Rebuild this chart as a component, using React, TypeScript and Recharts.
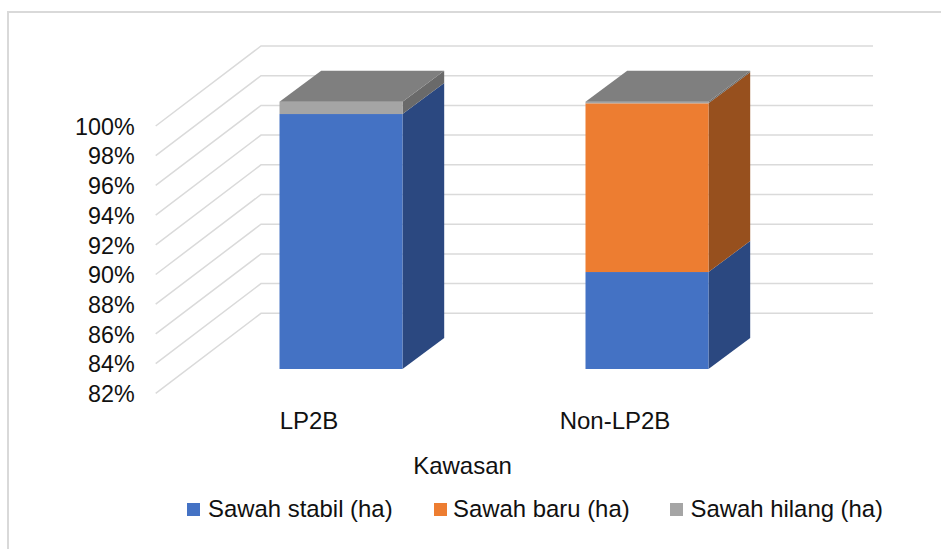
import React from 'react';
import { BarChart, Bar, XAxis, YAxis, CartesianGrid, Legend } from 'recharts';

const categories = ['LP2B', 'Non-LP2B'];
const sawahStabil = [99.17, 88.53];
const sawahBaru = [0, 11.36];
const sawahHilang = [0.83, 0.11];
const yTicks = [82, 84, 86, 88, 90, 92, 94, 96, 98, 100];
const seriesNames = ['Sawah stabil (ha)', 'Sawah baru (ha)', 'Sawah hilang (ha)'];
const seriesColors = ['#4472C4', '#ED7D31', '#A5A5A5'];
const sideColors = ['#2B4880', '#97501E', '#6A6A6A'];
const topColor = '#7F7F7F';

const data = categories.map((name, i) => ({
  name,
  stabil: sawahStabil[i],
  baru: sawahBaru[i],
  hilang: sawahHilang[i],
}));

const FONT = '"Liberation Sans", Arial, sans-serif';
const DEPTH_X = 41.7;
const DEPTH_Y = 31;
const PLOT_BOTTOM = 369;
const WALL_LEFT = 155.7;
const WALL_CORNER = 261;
const WALL_RIGHT = 873;
const legendLefts = [187, 433.5, 669.5];
const legendTextLefts = [208, 453, 690.5];

const makeShape = (idx: number, withTop: boolean) => (props: any) => {
  const { x, y, width, height } = props;
  const h = Math.min(height, PLOT_BOTTOM - y);
  if (!(h > 0)) return <g />;
  const b = y + h;
  const r = x + width;
  return (
    <g>
      <polygon
        points={`${r},${y} ${r + DEPTH_X},${y - DEPTH_Y} ${r + DEPTH_X},${b - DEPTH_Y} ${r},${b}`}
        fill={sideColors[idx]}
      />
      <rect x={x} y={y} width={width} height={h} fill={seriesColors[idx]} />
      {withTop && (
        <polygon
          points={`${x},${y} ${x + DEPTH_X},${y - DEPTH_Y} ${r + DEPTH_X},${y - DEPTH_Y} ${r},${y}`}
          fill={topColor}
        />
      )}
    </g>
  );
};

const wallLine = (props: any) => {
  const { y1, key } = props;
  const front = y1 + 24.3;
  const back = y1 - 55.7;
  return (
    <polyline
      key={key ?? y1}
      points={`${WALL_LEFT},${front} ${WALL_CORNER},${back} ${WALL_RIGHT},${back}`}
      fill="none"
      stroke="#DADADA"
      strokeWidth={1.5}
    />
  );
};

const YTick = (props: any) => (
  <text x={134.7} y={props.y + 33} textAnchor="end" fontFamily={FONT} fontSize={23.3} fill="#111">
    {props.payload.value}%
  </text>
);

const XTick = (props: any) => (
  <text x={props.x - 31.5} y={429.3} textAnchor="middle" fontFamily={FONT} fontSize={24} fill="#111">
    {props.payload.value}
  </text>
);

const AxisTitle = (props: any) => {
  const { x, width } = props.viewBox;
  return (
    <text x={x + width / 2 - 31} y={473.5} textAnchor="middle" fontFamily={FONT} fontSize={24} fill="#111">
      Kawasan
    </text>
  );
};

const LegendContent = (props: any) => (
  <div style={{ position: 'relative', width: 941, height: 30, fontFamily: FONT, fontSize: 23.9, color: '#111' }}>
    {(props.payload || []).map((p: any, i: number) => (
      <React.Fragment key={p.value}>
        <span
          style={{ position: 'absolute', left: legendLefts[i], top: 9, width: 13, height: 13, background: p.color }}
        />
        <span style={{ position: 'absolute', left: legendTextLefts[i], top: 0, lineHeight: '30px', whiteSpace: 'nowrap' }}>
          {p.value}
        </span>
      </React.Fragment>
    ))}
  </div>
);

export default function App() {
  return (
    <div style={{ position: 'absolute', left: 0, top: 0, width: 941, height: 549, background: '#fff', overflow: 'hidden' }}>
      <div
        style={{
          position: 'absolute',
          left: 7,
          top: 11,
          right: 0,
          bottom: 0,
          borderLeft: '2px solid #D9D9D9',
          borderTop: '2px solid #D9D9D9',
        }}
      />
      <div style={{ position: 'absolute', left: 0, top: 0 }}>
        <BarChart
          width={941}
          height={549}
          data={data}
          margin={{ top: 69.03, right: 141.5, bottom: 0, left: 87.5 }}
          barSize={123}
        >
          <CartesianGrid vertical={false} horizontal={wallLine} horizontalValues={yTicks} />
          <XAxis
            dataKey="name"
            height={180}
            axisLine={false}
            tickLine={false}
            tick={XTick}
            label={<AxisTitle />}
            interval={0}
          />
          <YAxis
            width={100}
            domain={[82, 102.2]}
            ticks={yTicks}
            interval={0}
            axisLine={false}
            tickLine={false}
            tick={YTick}
            allowDataOverflow
          />
          <Legend
            layout="vertical"
            align="center"
            verticalAlign="middle"
            itemSorter={null}
            wrapperStyle={{ left: 0, top: 494, width: 941 }}
            content={<LegendContent />}
          />
          <Bar dataKey="stabil" name={seriesNames[0]} stackId="a" fill={seriesColors[0]} shape={makeShape(0, false)} isAnimationActive={false} />
          <Bar dataKey="baru" name={seriesNames[1]} stackId="a" fill={seriesColors[1]} shape={makeShape(1, false)} isAnimationActive={false} />
          <Bar dataKey="hilang" name={seriesNames[2]} stackId="a" fill={seriesColors[2]} shape={makeShape(2, true)} isAnimationActive={false} />
        </BarChart>
      </div>
    </div>
  );
}
